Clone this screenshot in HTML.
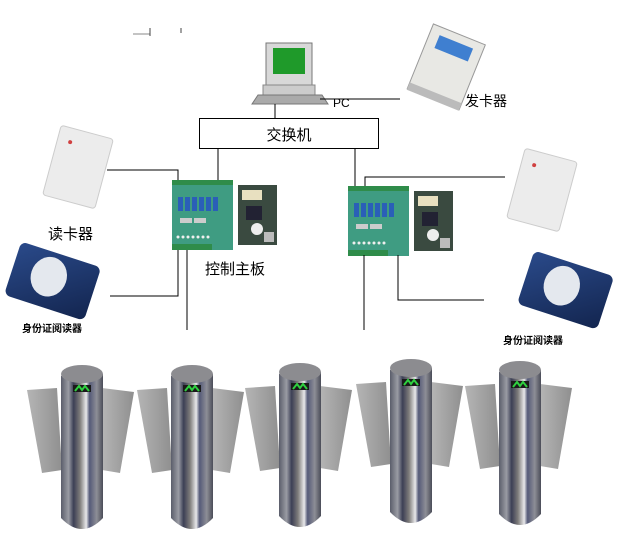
<!DOCTYPE html>
<html><head><meta charset="utf-8"><style>
html,body{margin:0;padding:0;background:#fff;}
svg{display:block;}
text{font-family:"Liberation Sans","Noto Sans CJK SC",sans-serif;}
</style></head><body>
<svg width="630" height="549" viewBox="0 0 630 549" xmlns="http://www.w3.org/2000/svg">
<defs>
<linearGradient id="post" x1="0" x2="1" y1="0" y2="0">
<stop offset="0" stop-color="#5a5d6a"/><stop offset="0.18" stop-color="#9a9ca4"/><stop offset="0.3" stop-color="#3c3f55"/><stop offset="0.45" stop-color="#7d7b7a"/><stop offset="0.6" stop-color="#e8e8ea"/><stop offset="0.68" stop-color="#555a78"/><stop offset="0.85" stop-color="#8d8e96"/><stop offset="1" stop-color="#4a4c58"/>
</linearGradient>
<linearGradient id="wing" x1="0" x2="1"><stop offset="0" stop-color="#b5b5b5"/><stop offset="1" stop-color="#8f8f8f"/></linearGradient>
<linearGradient id="idr" x1="0" x2="1" y1="0" y2="1"><stop offset="0" stop-color="#2a4a8a"/><stop offset="1" stop-color="#13254f"/></linearGradient>
<g id="board">
<rect x="0" y="0" width="61" height="68" fill="#3f9c82"/>
<rect x="0" y="-2" width="61" height="5" fill="#2f8c4a"/>
<rect x="0" y="62" width="40" height="6" fill="#2f8c4a"/>
<g fill="#2a5fb8"><rect x="6" y="15" width="5" height="14"/><rect x="13" y="15" width="5" height="14"/><rect x="20" y="15" width="5" height="14"/><rect x="27" y="15" width="5" height="14"/><rect x="34" y="15" width="5" height="14"/><rect x="41" y="15" width="5" height="14"/></g>
<rect x="8" y="36" width="12" height="5" fill="#ccc"/><rect x="22" y="36" width="12" height="5" fill="#ccc"/>
<g fill="#eee"><circle cx="6" cy="55" r="1.5"/><circle cx="11" cy="55" r="1.5"/><circle cx="16" cy="55" r="1.5"/><circle cx="21" cy="55" r="1.5"/><circle cx="26" cy="55" r="1.5"/><circle cx="31" cy="55" r="1.5"/><circle cx="36" cy="55" r="1.5"/></g>
<rect x="66" y="3" width="39" height="60" fill="#3a4a40"/>
<rect x="70" y="8" width="20" height="10" fill="#e8e0c0"/>
<rect x="74" y="24" width="16" height="14" fill="#223"/>
<circle cx="85" cy="47" r="6" fill="#eee"/>
<rect x="92" y="50" width="10" height="10" fill="#bbb"/>
</g>
<g id="turn">
<path d="M-25 20 L-55 22 L-40 105 L-20 102 Z" fill="url(#wing)"/>
<path d="M20 20 L52 24 L38 105 L20 102 Z" fill="url(#wing)"/>
<path d="M-21 8 Q0 -5 21 6 L21 150 Q0 172 -21 150 Z" fill="url(#post)"/>
<ellipse cx="0" cy="6" rx="21" ry="9" fill="#8c8c90"/>
<rect x="-9" y="17" width="18" height="7" fill="#1a1a1a"/>
<path d="M-7 23 L-3 18 L0 22 L3 18 L7 23" stroke="#2fd040" stroke-width="2" fill="none"/>
</g>
</defs>
<!-- small marks -->
<line x1="133" y1="34" x2="150" y2="34" stroke="#888" stroke-width="1"/>
<line x1="150" y1="28" x2="150" y2="36" stroke="#444"/>
<line x1="181" y1="28" x2="181" y2="33" stroke="#444"/>
<!-- PC -->
<rect x="266" y="43" width="46" height="42" fill="#d8d8d8" stroke="#777"/>
<rect x="273" y="48" width="32" height="26" fill="#1f9a2a"/>
<rect x="263" y="85" width="52" height="12" fill="#ccc" stroke="#888"/>
<path d="M252 104 L258 95 L322 95 L328 104 Z" fill="#aaa" stroke="#777"/>
<line x1="275" y1="104" x2="275" y2="118" stroke="#000"/>
<line x1="320" y1="99" x2="400" y2="99" stroke="#000"/>
<text x="333" y="107" font-size="12" font-family="Liberation Serif,serif">PC</text>
<!-- card issuer -->
<g transform="translate(447,65) rotate(22)">
<rect x="-28" y="-33" width="56" height="70" fill="#e8e8e4" stroke="#999"/>
<rect x="-18" y="-25" width="36" height="14" fill="#3f7fd0"/>
<rect x="-28" y="30" width="56" height="8" fill="#bbb"/>
</g>
<text x="465" y="106" font-size="14">发卡器</text>
<!-- switch -->
<rect x="199.5" y="118.5" width="179" height="30" fill="#fff" stroke="#000"/>
<text x="289" y="140" font-size="15" text-anchor="middle">交换机</text>
<line x1="218" y1="148" x2="218" y2="185" stroke="#000"/>
<line x1="355" y1="148" x2="355" y2="190" stroke="#000"/>
<!-- left reader -->
<g transform="translate(78,167) rotate(15)"><rect x="-27" y="-36" width="54" height="72" rx="3" fill="#ececec" stroke="#ccc"/><circle cx="-14" cy="-22" r="2" fill="#d04040"/></g>
<polyline points="107,170 178,170 178,182" fill="none" stroke="#000"/>
<text x="48" y="239" font-size="15">读卡器</text>
<!-- right reader -->
<g transform="translate(542,190) rotate(15)"><rect x="-27" y="-36" width="54" height="72" rx="3" fill="#ececec" stroke="#ccc"/><circle cx="-14" cy="-22" r="2" fill="#d04040"/></g>
<polyline points="365,190 365,177 505,177" fill="none" stroke="#000"/>
<!-- boards -->
<use href="#board" x="172" y="182"/>
<use href="#board" x="348" y="188"/>
<text x="205" y="274" font-size="15">控制主板</text>
<!-- ID readers -->
<g transform="translate(52,283) rotate(18)"><rect x="-42" y="-30" width="84" height="56" rx="6" fill="url(#idr)"/><ellipse cx="-5" cy="-5" rx="18" ry="20" fill="#e4e8ee"/></g>
<text x="22" y="332" font-size="10" font-weight="bold">身份证阅读器</text>
<g transform="translate(565,292) rotate(18)"><rect x="-42" y="-30" width="84" height="56" rx="6" fill="url(#idr)"/><ellipse cx="-5" cy="-5" rx="18" ry="20" fill="#e4e8ee"/></g>
<text x="503" y="344" font-size="10" font-weight="bold">身份证阅读器</text>
<!-- lines -->
<polyline points="110,296 178,296 178,250" fill="none" stroke="#000"/>
<line x1="187" y1="250" x2="187" y2="330" stroke="#000"/>
<line x1="364" y1="255" x2="364" y2="330" stroke="#000"/>
<polyline points="398,255 398,300 484,300" fill="none" stroke="#000"/>
<!-- turnstiles -->
<use href="#turn" x="82" y="368"/>
<use href="#turn" x="192" y="368"/>
<use href="#turn" x="300" y="366"/>
<use href="#turn" x="411" y="362"/>
<use href="#turn" x="520" y="364"/>
</svg>
</body></html>
